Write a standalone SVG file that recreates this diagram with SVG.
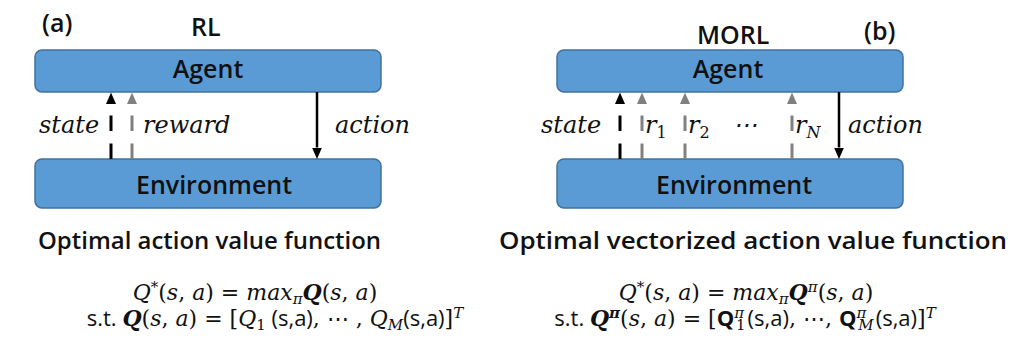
<svg xmlns="http://www.w3.org/2000/svg" width="1022" height="352" viewBox="0 0 1022 352">
<style>
.box{fill:#5B9BD5;stroke:#41719C;stroke-width:1.5}
.nl{font-family:"Open Sans","Noto Sans","Liberation Sans",sans-serif;font-weight:600;font-size:25px;fill:#111;text-anchor:middle}
.ttl{font-family:"Open Sans","Noto Sans","Liberation Sans",sans-serif;font-weight:600;font-size:25px;fill:#111}
.hd{font-family:"Open Sans","Noto Sans","Liberation Sans",sans-serif;font-weight:600;font-size:24px;fill:#111}
.lab{font-family:"DejaVu Serif","Liberation Serif",serif;font-style:italic;font-size:24px;fill:#111}
.math{font-family:"DejaVu Serif","Liberation Serif",serif;font-size:22px;fill:#111;text-anchor:middle}
.i{font-style:italic}
.b{font-weight:bold}
.sans{font-family:"Open Sans","Noto Sans","Liberation Sans",sans-serif;font-style:normal}
.sm{font-size:15px}
.bk{stroke:#000;stroke-width:3;fill:none}
.gr{stroke:#808080;stroke-width:3;fill:none}
.dash{stroke-dasharray:15.5 12.5}
.act{stroke:#000;stroke-width:2.5;fill:none}
</style>
<defs>
<marker id="hb" markerUnits="userSpaceOnUse" markerWidth="12" markerHeight="10" viewBox="0 0 12 10" refX="0" refY="5" orient="auto"><path d="M0,0 L11.5,5 L0,10 z" fill="#000"/></marker>
<marker id="hg" markerUnits="userSpaceOnUse" markerWidth="12" markerHeight="10" viewBox="0 0 12 10" refX="0" refY="5" orient="auto"><path d="M0,0 L11.5,5 L0,10 z" fill="#808080"/></marker>
</defs>

<g id="title-a">
<text class="ttl" x="42" y="32">(a)</text>
<text class="ttl" x="191" y="36">RL</text>
</g>
<g id="title-b">
<text class="ttl" x="697" y="44">MORL</text>
<text class="ttl" x="864" y="40">(b)</text>
</g>

<g id="agent-a">
<rect class="box" x="35" y="50" width="346" height="42" rx="7"/>
<text class="nl" x="208" y="78">Agent</text>
</g>
<g id="env-a">
<rect class="box" x="35" y="159" width="346" height="49" rx="7"/>
<text class="nl" x="214" y="194">Environment</text>
</g>
<g id="agent-b">
<rect class="box" x="557" y="50" width="346" height="42" rx="7"/>
<text class="nl" x="728" y="78">Agent</text>
</g>
<g id="env-b">
<rect class="box" x="557" y="159" width="346" height="49" rx="7"/>
<text class="nl" x="734" y="194">Environment</text>
</g>

<g id="connectors">
<line class="bk dash" x1="111" y1="159" x2="111" y2="104" marker-end="url(#hb)"/>
<line class="gr dash" x1="132" y1="159" x2="132" y2="104" marker-end="url(#hg)"/>
<line class="act" x1="317" y1="92" x2="317" y2="147.5" marker-end="url(#hb)"/>
<line class="bk dash" x1="620" y1="159" x2="620" y2="104" marker-end="url(#hb)"/>
<line class="gr dash" x1="642" y1="159" x2="642" y2="104" marker-end="url(#hg)"/>
<line class="gr dash" x1="685" y1="159" x2="685" y2="104" marker-end="url(#hg)"/>
<line class="gr dash" x1="792" y1="159" x2="792" y2="104" marker-end="url(#hg)"/>
<line class="act" x1="839" y1="92" x2="839" y2="147.5" marker-end="url(#hb)"/>
</g>

<g id="labels-a">
<text class="lab" x="39" y="133">state</text>
<text class="lab" x="143" y="133">reward</text>
<text class="lab" x="335" y="133">action</text>
</g>
<g id="labels-b">
<text class="lab" x="541" y="133">state</text>
<text class="lab" x="645" y="133">r<tspan dy="5" font-size="16" font-style="normal">1</tspan></text>
<text class="lab" x="688" y="133">r<tspan dy="5" font-size="16" font-style="normal">2</tspan></text>
<text class="lab" x="733" y="133" font-style="normal">⋯</text>
<text class="lab" x="795" y="133">r<tspan dy="5" font-size="16">N</tspan></text>
<text class="lab" x="848" y="133">action</text>
</g>

<g id="text-a">
<text class="hd" x="38" y="249" textLength="343" lengthAdjust="spacingAndGlyphs">Optimal action value function</text>
<text class="math" x="255" y="300"><tspan class="i">Q</tspan><tspan class="sm" dy="-8">*</tspan><tspan dy="8">(</tspan><tspan class="i">s</tspan>, <tspan class="i">a</tspan>) = <tspan class="i">max</tspan><tspan class="i sm" dy="4">π</tspan><tspan class="i b" dy="-4">Q</tspan>(<tspan class="i">s</tspan>, <tspan class="i">a</tspan>)</text>
<text class="math" x="275" y="326"><tspan class="sans">s.t. </tspan><tspan class="i b">Q</tspan>(<tspan class="i">s</tspan>, <tspan class="i">a</tspan>) = [<tspan class="i">Q</tspan><tspan class="sm" dy="4">1</tspan><tspan class="sans" dy="-4"> (s,a)</tspan>, ⋯ , <tspan class="i">Q</tspan><tspan class="i sm" dy="4">M</tspan><tspan class="sans" dy="-4">(s,a)</tspan>]<tspan class="i sm" dy="-8">T</tspan></text>
</g>
<g id="text-b">
<text class="hd" x="499" y="249" textLength="508" lengthAdjust="spacingAndGlyphs">Optimal vectorized action value function</text>
<text class="math" x="746" y="300"><tspan class="i">Q</tspan><tspan class="sm" dy="-8">*</tspan><tspan dy="8">(</tspan><tspan class="i">s</tspan>, <tspan class="i">a</tspan>) = <tspan class="i">max</tspan><tspan class="i sm" dy="4">π</tspan><tspan class="i b" dy="-4">Q</tspan><tspan class="i sm" dy="-8">π</tspan><tspan dy="8">(</tspan><tspan class="i">s</tspan>, <tspan class="i">a</tspan>)</text>
<text class="math" x="745" y="326"><tspan class="sans">s.t. </tspan><tspan class="i b">Q</tspan><tspan class="i b sm" dy="-8">π</tspan><tspan dy="8">(</tspan><tspan class="i">s</tspan>, <tspan class="i">a</tspan>) = [<tspan class="sans b">Q</tspan><tspan class="i sm" dy="-8">π</tspan><tspan class="sm" dx="-8" dy="12">1</tspan><tspan class="sans" dx="2" dy="-4">(s,a)</tspan>, ⋯,  <tspan class="sans b">Q</tspan><tspan class="i sm" dy="-8">π</tspan><tspan class="i sm" dx="-8" dy="12">M</tspan><tspan class="sans" dx="2" dy="-4">(s,a)</tspan>]<tspan class="i sm" dy="-8">T</tspan></text>
</g>
</svg>
